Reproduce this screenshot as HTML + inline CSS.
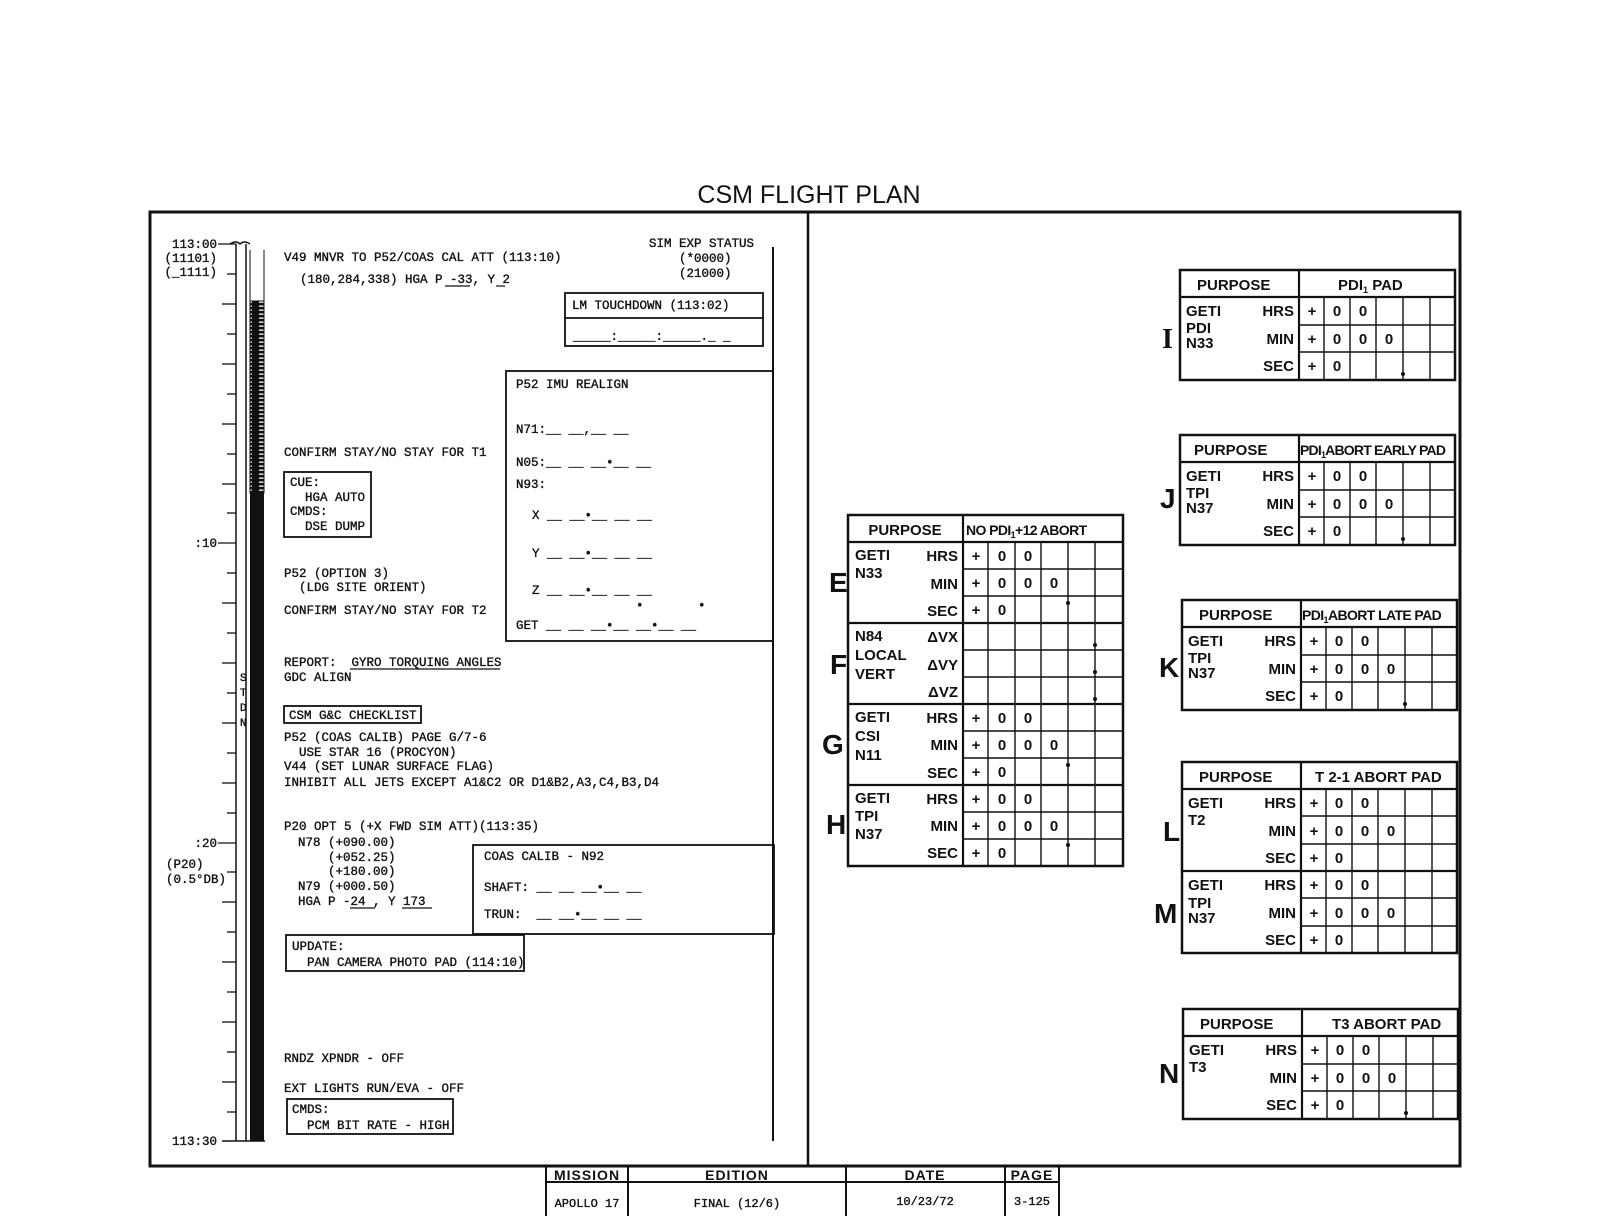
<!DOCTYPE html>
<html><head><meta charset="utf-8"><style>
html,body{margin:0;padding:0;background:#fff;}
svg{display:block;}
svg text{white-space:pre;}
.m{font-family:"Liberation Mono",monospace;font-size:12.5px;fill:#111;stroke:#111;stroke-width:0.35px;}
.b{font-family:"Liberation Sans",sans-serif;font-weight:bold;font-size:15px;fill:#111;}
.L{font-family:"Liberation Serif",serif;font-size:28px;fill:#111;font-weight:bold;}
.bl{font-family:"Liberation Sans",sans-serif;font-weight:bold;font-size:28px;fill:#111;}
</style></head><body>
<svg width="1615" height="1216" viewBox="0 0 1615 1216" xmlns="http://www.w3.org/2000/svg" xml:space="preserve">
<rect width="1615" height="1216" fill="#fff"/>
<defs>
<pattern id="lad" x="0" y="0" width="16" height="4" patternUnits="userSpaceOnUse">
<rect width="16" height="4" fill="#111"/><rect x="3" y="1.5" width="9" height="1.3" fill="#fff"/>
</pattern>
</defs>
<text x="809" y="203" text-anchor="middle" style="font-family:'Liberation Sans',sans-serif;font-size:25px;fill:#111">CSM FLIGHT PLAN</text>
<rect x="150" y="212" width="1310" height="954" fill="none" stroke="#111" stroke-width="3"/>
<line x1="808" y1="212" x2="808" y2="1166" stroke="#111" stroke-width="2.5"/>
<!-- footer -->
<g stroke="#111" stroke-width="2">
<line x1="546" y1="1182" x2="1059" y2="1182"/>
<line x1="546" y1="1166" x2="546" y2="1216"/><line x1="628" y1="1166" x2="628" y2="1216"/>
<line x1="846" y1="1166" x2="846" y2="1216"/><line x1="1005" y1="1166" x2="1005" y2="1216"/>
<line x1="1059" y1="1166" x2="1059" y2="1216"/>
</g>
<g style="font-family:'Liberation Sans',sans-serif;font-weight:bold;font-size:14px;letter-spacing:1px" fill="#111" text-anchor="middle">
<text x="587" y="1180">MISSION</text><text x="737" y="1180">EDITION</text><text x="925" y="1180">DATE</text><text x="1032" y="1180">PAGE</text>
</g>
<g class="m" text-anchor="middle" style="font-size:12px">
<text x="587" y="1207">APOLLO 17</text><text x="737" y="1207">FINAL (12/6)</text><text x="925" y="1205">10/23/72</text><text x="1032" y="1205">3-125</text>
</g>

<!-- timeline -->
<g stroke="#111" stroke-width="1.5">
<line x1="236" y1="244" x2="236" y2="1141"/>
<line x1="246" y1="244" x2="246" y2="1141"/>
<path d="M230 244 Q236 240 240 244 Q244 240 250 244" fill="none"/>
<line x1="222" y1="1141" x2="265" y2="1141"/>
</g>
<rect x="250" y="301" width="14" height="192" fill="url(#lad)"/>
<rect x="250" y="301" width="14" height="192" fill="none" stroke="#111" stroke-width="1"/>
<rect x="250" y="492" width="14" height="649" fill="#111"/>
<line x1="250" y1="250" x2="250" y2="301" stroke="#111" stroke-width="1"/>
<line x1="264" y1="250" x2="264" y2="301" stroke="#111" stroke-width="1"/>
<g stroke="#111" stroke-width="1.3">
<line x1="218" y1="244" x2="236" y2="244"/>
<line x1="227" y1="274" x2="236" y2="274"/><line x1="222" y1="304" x2="236" y2="304"/>
<line x1="227" y1="334" x2="236" y2="334"/><line x1="222" y1="364" x2="236" y2="364"/>
<line x1="227" y1="394" x2="236" y2="394"/><line x1="222" y1="424" x2="236" y2="424"/>
<line x1="227" y1="454" x2="236" y2="454"/><line x1="222" y1="484" x2="236" y2="484"/>
<line x1="227" y1="513" x2="236" y2="513"/><line x1="218" y1="543" x2="236" y2="543"/>
<line x1="227" y1="573" x2="236" y2="573"/><line x1="222" y1="603" x2="236" y2="603"/>
<line x1="227" y1="633" x2="236" y2="633"/><line x1="222" y1="663" x2="236" y2="663"/>
<line x1="227" y1="693" x2="236" y2="693"/><line x1="222" y1="723" x2="236" y2="723"/>
<line x1="227" y1="753" x2="236" y2="753"/><line x1="222" y1="783" x2="236" y2="783"/>
<line x1="227" y1="813" x2="236" y2="813"/><line x1="218" y1="843" x2="236" y2="843"/>
<line x1="227" y1="872" x2="236" y2="872"/><line x1="222" y1="902" x2="236" y2="902"/>
<line x1="227" y1="932" x2="236" y2="932"/><line x1="222" y1="962" x2="236" y2="962"/>
<line x1="227" y1="992" x2="236" y2="992"/><line x1="222" y1="1022" x2="236" y2="1022"/>
<line x1="227" y1="1052" x2="236" y2="1052"/><line x1="222" y1="1082" x2="236" y2="1082"/>
<line x1="227" y1="1112" x2="236" y2="1112"/>
</g>
<g class="m" text-anchor="end">
<text x="217" y="248">113:00</text><text x="217" y="262">(11101)</text><text x="217" y="276">(_1111)</text>
<text x="217" y="547">:10</text><text x="217" y="847">:20</text>
<text x="217" y="1145">113:30</text>
</g>
<g class="m"><text x="166" y="868">(P20)</text><text x="166" y="883">(0.5°DB)</text></g>
<g class="m" style="font-size:11px"><text x="240" y="681">S</text><text x="240" y="696">T</text><text x="240" y="711">D</text><text x="240" y="726">N</text></g>

<!-- left content -->
<line x1="773" y1="247" x2="773" y2="1141" stroke="#111" stroke-width="2"/>
<g class="m">
<text x="284" y="261">V49 MNVR TO P52/COAS CAL ATT (113:10)</text>
<text x="300" y="283">(180,284,338) HGA P -33, Y 2</text>
<text x="649" y="247">SIM EXP STATUS</text>
<text x="679" y="262">(*0000)</text>
<text x="679" y="277">(21000)</text>
<text x="284" y="456">CONFIRM STAY/NO STAY FOR T1</text>
<text x="284" y="577">P52 (OPTION 3)</text>
<text x="284" y="591">  (LDG SITE ORIENT)</text>
<text x="284" y="614">CONFIRM STAY/NO STAY FOR T2</text>
<text x="284" y="666">REPORT:  GYRO TORQUING ANGLES</text>
<text x="284" y="681">GDC ALIGN</text>
<text x="289" y="719">CSM G&amp;C CHECKLIST</text>
<text x="284" y="741">P52 (COAS CALIB) PAGE G/7-6</text>
<text x="284" y="756">  USE STAR 16 (PROCYON)</text>
<text x="284" y="770">V44 (SET LUNAR SURFACE FLAG)</text>
<text x="284" y="786">INHIBIT ALL JETS EXCEPT A1&amp;C2 OR D1&amp;B2,A3,C4,B3,D4</text>
<text x="284" y="830">P20 OPT 5 (+X FWD SIM ATT)(113:35)</text>
<text x="298" y="846">N78 (+090.00)</text>
<text x="328" y="861">(+052.25)</text>
<text x="328" y="875">(+180.00)</text>
<text x="298" y="890">N79 (+000.50)</text>
<text x="298" y="905">HGA P -24 , Y 173</text>
<text x="284" y="1062">RNDZ XPNDR - OFF</text>
<text x="284" y="1092">EXT LIGHTS RUN/EVA - OFF</text>
</g>
<g stroke="#111" stroke-width="1.2">
<line x1="445" y1="286" x2="470" y2="286"/><line x1="496" y1="286" x2="505" y2="286"/>
<line x1="350" y1="669" x2="500" y2="669"/>
<line x1="350" y1="908" x2="375" y2="908"/><line x1="402" y1="908" x2="432" y2="908"/>
</g>
<!-- boxes -->
<g fill="none" stroke="#111" stroke-width="1.8">
<rect x="565" y="293" width="198" height="53"/><line x1="565" y1="318" x2="763" y2="318"/>
<rect x="506" y="371" width="267" height="270"/>
<rect x="284" y="472" width="87" height="65"/>
<rect x="284" y="706" width="137" height="17"/>
<rect x="473" y="845" width="301" height="89"/>
<rect x="286" y="935" width="238" height="36"/>
<rect x="287" y="1099" width="166" height="35"/>
</g>
<g class="m">
<text x="572" y="309">LM TOUCHDOWN (113:02)</text>
<text x="573" y="340">_____:_____:_____._ _</text>
<text x="516" y="388">P52 IMU REALIGN</text>
<text x="516" y="433">N71:__ __,__ __</text>
<text x="516" y="466">N05:__ __ __•__ __</text>
<text x="516" y="488">N93:</text>
<text x="532" y="519">X __ __•__ __ __</text>
<text x="532" y="557">Y __ __•__ __ __</text>
<text x="532" y="594">Z __ __•__ __ __</text>
<text x="516" y="629">GET __ __ __•__ __•__ __</text>
<text x="636" y="609">•</text><text x="698" y="609">•</text>
<text x="290" y="486">CUE:</text>
<text x="290" y="501">  HGA AUTO</text>
<text x="290" y="515">CMDS:</text>
<text x="290" y="530">  DSE DUMP</text>
<text x="484" y="860">COAS CALIB - N92</text>
<text x="484" y="891">SHAFT: __ __ __•__ __</text>
<text x="484" y="918">TRUN:  __ __•__ __ __</text>
<text x="292" y="950">UPDATE:</text>
<text x="292" y="966">  PAN CAMERA PHOTO PAD (114:10)</text>
<text x="292" y="1113">CMDS:</text>
<text x="292" y="1129">  PCM BIT RATE - HIGH</text>
</g>

<!-- E-H table -->
<g transform="translate(848,515)">
<rect x="0" y="0" width="275" height="351" fill="none" stroke="#111" stroke-width="2.5"/>
<g stroke="#111" stroke-width="2.2">
<line x1="0" y1="27" x2="275" y2="27"/><line x1="0" y1="108" x2="275" y2="108"/>
<line x1="0" y1="189" x2="275" y2="189"/><line x1="0" y1="270" x2="275" y2="270"/>
<line x1="115" y1="0" x2="115" y2="351"/>
</g>
<g stroke="#111" stroke-width="1.4">
<line x1="115" y1="54" x2="275" y2="54"/><line x1="115" y1="81" x2="275" y2="81"/>
<line x1="115" y1="135" x2="275" y2="135"/><line x1="115" y1="162" x2="275" y2="162"/>
<line x1="115" y1="216" x2="275" y2="216"/><line x1="115" y1="243" x2="275" y2="243"/>
<line x1="115" y1="297" x2="275" y2="297"/><line x1="115" y1="324" x2="275" y2="324"/>
<line x1="140" y1="27" x2="140" y2="351"/><line x1="167" y1="27" x2="167" y2="351"/>
<line x1="193" y1="27" x2="193" y2="351"/><line x1="220" y1="27" x2="220" y2="351"/>
<line x1="247" y1="27" x2="247" y2="351"/>
</g>
<g fill="#111"><circle cx="220" cy="88" r="2"/><circle cx="247" cy="130" r="2"/><circle cx="247" cy="157" r="2"/><circle cx="247" cy="184" r="2"/><circle cx="220" cy="250" r="2"/><circle cx="220" cy="330" r="2"/></g>
<g class="b">
<text x="57" y="20" text-anchor="middle">PURPOSE</text>
<text x="118" y="20" style="font-size:14px;letter-spacing:-0.6px">NO PDI<tspan style="font-size:9px" dy="3">1</tspan><tspan dy="-3">+12 ABORT</tspan></text>
<text x="7" y="45">GETI</text><text x="7" y="63">N33</text>
<text x="7" y="126">N84</text><text x="7" y="145">LOCAL</text><text x="7" y="164">VERT</text>
<text x="7" y="207">GETI</text><text x="7" y="226">CSI</text><text x="7" y="245">N11</text>
<text x="7" y="288">GETI</text><text x="7" y="306">TPI</text><text x="7" y="324">N37</text>
</g>
<g class="b" text-anchor="end">
<text x="110" y="46">HRS</text><text x="110" y="74">MIN</text><text x="110" y="101">SEC</text>
<text x="110" y="127">ΔVX</text><text x="110" y="155">ΔVY</text><text x="110" y="182">ΔVZ</text>
<text x="110" y="208">HRS</text><text x="110" y="235">MIN</text><text x="110" y="263">SEC</text>
<text x="110" y="289">HRS</text><text x="110" y="316">MIN</text><text x="110" y="343">SEC</text>
</g>
<g class="b" text-anchor="middle">
<text x="128" y="46">+</text><text x="154" y="46">0</text><text x="180" y="46">0</text>
<text x="128" y="73">+</text><text x="154" y="73">0</text><text x="180" y="73">0</text><text x="206" y="73">0</text>
<text x="128" y="100">+</text><text x="154" y="100">0</text>
<text x="128" y="208">+</text><text x="154" y="208">0</text><text x="180" y="208">0</text>
<text x="128" y="235">+</text><text x="154" y="235">0</text><text x="180" y="235">0</text><text x="206" y="235">0</text>
<text x="128" y="262">+</text><text x="154" y="262">0</text>
<text x="128" y="289">+</text><text x="154" y="289">0</text><text x="180" y="289">0</text>
<text x="128" y="316">+</text><text x="154" y="316">0</text><text x="180" y="316">0</text><text x="206" y="316">0</text>
<text x="128" y="343">+</text><text x="154" y="343">0</text>
</g>
</g>
<g class="bl">
<text x="829" y="592">E</text><text x="830" y="674">F</text><text x="822" y="754">G</text><text x="826" y="834">H</text>
</g>

<!-- Generic 3-row tables -->
<g transform="translate(1180,270)">
<rect x="0" y="0" width="275" height="110" fill="none" stroke="#111" stroke-width="2.5"/>
<g stroke="#111" stroke-width="2.2"><line x1="0" y1="27" x2="275" y2="27"/><line x1="119" y1="0" x2="119" y2="110"/></g>
<g stroke="#111" stroke-width="1.4"><line x1="119" y1="55" x2="275" y2="55"/><line x1="119" y1="82" x2="275" y2="82"/>
<line x1="144" y1="27" x2="144" y2="110"/><line x1="170" y1="27" x2="170" y2="110"/><line x1="196" y1="27" x2="196" y2="110"/><line x1="223" y1="27" x2="223" y2="110"/><line x1="250" y1="27" x2="250" y2="110"/></g>
<circle cx="223" cy="104" r="2" fill="#111"/>
<g class="b"><text x="17" y="20">PURPOSE</text><text x="158" y="20">PDI<tspan style="font-size:9px" dy="3">1</tspan><tspan dy="-3"> PAD</tspan></text>
<text x="6" y="46">GETI</text><text x="6" y="63">PDI</text><text x="6" y="78">N33</text></g>
<g class="b" text-anchor="end"><text x="114" y="46">HRS</text><text x="114" y="74">MIN</text><text x="114" y="101">SEC</text></g>
<g class="b" text-anchor="middle"><text x="132" y="46">+</text><text x="157" y="46">0</text><text x="183" y="46">0</text>
<text x="132" y="74">+</text><text x="157" y="74">0</text><text x="183" y="74">0</text><text x="209" y="74">0</text>
<text x="132" y="101">+</text><text x="157" y="101">0</text></g>
</g>
<text x="1162" y="348" class="L">I</text>

<g transform="translate(1180,435)">
<rect x="0" y="0" width="275" height="110" fill="none" stroke="#111" stroke-width="2.5"/>
<g stroke="#111" stroke-width="2.2"><line x1="0" y1="27" x2="275" y2="27"/><line x1="119" y1="0" x2="119" y2="110"/></g>
<g stroke="#111" stroke-width="1.4"><line x1="119" y1="55" x2="275" y2="55"/><line x1="119" y1="82" x2="275" y2="82"/>
<line x1="144" y1="27" x2="144" y2="110"/><line x1="170" y1="27" x2="170" y2="110"/><line x1="196" y1="27" x2="196" y2="110"/><line x1="223" y1="27" x2="223" y2="110"/><line x1="250" y1="27" x2="250" y2="110"/></g>
<circle cx="223" cy="104" r="2" fill="#111"/>
<g class="b"><text x="14" y="20">PURPOSE</text><text x="120" y="20" style="font-size:14px;letter-spacing:-0.8px">PDI<tspan style="font-size:9px" dy="3">1</tspan><tspan dy="-3">ABORT EARLY PAD</tspan></text>
<text x="6" y="46">GETI</text><text x="6" y="63">TPI</text><text x="6" y="78">N37</text></g>
<g class="b" text-anchor="end"><text x="114" y="46">HRS</text><text x="114" y="74">MIN</text><text x="114" y="101">SEC</text></g>
<g class="b" text-anchor="middle"><text x="132" y="46">+</text><text x="157" y="46">0</text><text x="183" y="46">0</text>
<text x="132" y="74">+</text><text x="157" y="74">0</text><text x="183" y="74">0</text><text x="209" y="74">0</text>
<text x="132" y="101">+</text><text x="157" y="101">0</text></g>
</g>
<text x="1160" y="508" class="bl">J</text>

<g transform="translate(1182,600)">
<rect x="0" y="0" width="275" height="110" fill="none" stroke="#111" stroke-width="2.5"/>
<g stroke="#111" stroke-width="2.2"><line x1="0" y1="27" x2="275" y2="27"/><line x1="119" y1="0" x2="119" y2="110"/></g>
<g stroke="#111" stroke-width="1.4"><line x1="119" y1="55" x2="275" y2="55"/><line x1="119" y1="82" x2="275" y2="82"/>
<line x1="144" y1="27" x2="144" y2="110"/><line x1="170" y1="27" x2="170" y2="110"/><line x1="196" y1="27" x2="196" y2="110"/><line x1="223" y1="27" x2="223" y2="110"/><line x1="250" y1="27" x2="250" y2="110"/></g>
<circle cx="223" cy="104" r="2" fill="#111"/>
<g class="b"><text x="17" y="20">PURPOSE</text><text x="120" y="20" style="font-size:14px;letter-spacing:-0.6px">PDI<tspan style="font-size:9px" dy="3">1</tspan><tspan dy="-3">ABORT LATE PAD</tspan></text>
<text x="6" y="46">GETI</text><text x="6" y="63">TPI</text><text x="6" y="78">N37</text></g>
<g class="b" text-anchor="end"><text x="114" y="46">HRS</text><text x="114" y="74">MIN</text><text x="114" y="101">SEC</text></g>
<g class="b" text-anchor="middle"><text x="132" y="46">+</text><text x="157" y="46">0</text><text x="183" y="46">0</text>
<text x="132" y="74">+</text><text x="157" y="74">0</text><text x="183" y="74">0</text><text x="209" y="74">0</text>
<text x="132" y="101">+</text><text x="157" y="101">0</text></g>
</g>
<text x="1159" y="677" class="bl">K</text>

<!-- L/M table -->
<g transform="translate(1182,762)">
<rect x="0" y="0" width="275" height="191" fill="none" stroke="#111" stroke-width="2.5"/>
<g stroke="#111" stroke-width="2.2"><line x1="0" y1="27" x2="275" y2="27"/><line x1="119" y1="0" x2="119" y2="191"/><line x1="0" y1="109" x2="275" y2="109"/></g>
<g stroke="#111" stroke-width="1.4"><line x1="119" y1="54" x2="275" y2="54"/><line x1="119" y1="82" x2="275" y2="82"/>
<line x1="119" y1="136" x2="275" y2="136"/><line x1="119" y1="164" x2="275" y2="164"/>
<line x1="144" y1="27" x2="144" y2="191"/><line x1="170" y1="27" x2="170" y2="191"/><line x1="196" y1="27" x2="196" y2="191"/><line x1="223" y1="27" x2="223" y2="191"/><line x1="250" y1="27" x2="250" y2="191"/></g>
<g class="b"><text x="17" y="20">PURPOSE</text><text x="133" y="20">T 2-1 ABORT PAD</text>
<text x="6" y="46">GETI</text><text x="6" y="63">T2</text>
<text x="6" y="128">GETI</text><text x="6" y="146">TPI</text><text x="6" y="161">N37</text></g>
<g class="b" text-anchor="end"><text x="114" y="46">HRS</text><text x="114" y="74">MIN</text><text x="114" y="101">SEC</text>
<text x="114" y="128">HRS</text><text x="114" y="156">MIN</text><text x="114" y="183">SEC</text></g>
<g class="b" text-anchor="middle"><text x="132" y="46">+</text><text x="157" y="46">0</text><text x="183" y="46">0</text>
<text x="132" y="74">+</text><text x="157" y="74">0</text><text x="183" y="74">0</text><text x="209" y="74">0</text>
<text x="132" y="101">+</text><text x="157" y="101">0</text>
<text x="132" y="128">+</text><text x="157" y="128">0</text><text x="183" y="128">0</text>
<text x="132" y="156">+</text><text x="157" y="156">0</text><text x="183" y="156">0</text><text x="209" y="156">0</text>
<text x="132" y="183">+</text><text x="157" y="183">0</text></g>
</g>
<text x="1163" y="841" class="bl">L</text>
<text x="1154" y="923" class="bl">M</text>

<g transform="translate(1183,1009)">
<rect x="0" y="0" width="275" height="110" fill="none" stroke="#111" stroke-width="2.5"/>
<g stroke="#111" stroke-width="2.2"><line x1="0" y1="27" x2="275" y2="27"/><line x1="119" y1="0" x2="119" y2="110"/></g>
<g stroke="#111" stroke-width="1.4"><line x1="119" y1="55" x2="275" y2="55"/><line x1="119" y1="82" x2="275" y2="82"/>
<line x1="144" y1="27" x2="144" y2="110"/><line x1="170" y1="27" x2="170" y2="110"/><line x1="196" y1="27" x2="196" y2="110"/><line x1="223" y1="27" x2="223" y2="110"/><line x1="250" y1="27" x2="250" y2="110"/></g>
<circle cx="223" cy="104" r="2" fill="#111"/>
<g class="b"><text x="17" y="20">PURPOSE</text><text x="149" y="20">T3 ABORT PAD</text>
<text x="6" y="46">GETI</text><text x="6" y="63">T3</text></g>
<g class="b" text-anchor="end"><text x="114" y="46">HRS</text><text x="114" y="74">MIN</text><text x="114" y="101">SEC</text></g>
<g class="b" text-anchor="middle"><text x="132" y="46">+</text><text x="157" y="46">0</text><text x="183" y="46">0</text>
<text x="132" y="74">+</text><text x="157" y="74">0</text><text x="183" y="74">0</text><text x="209" y="74">0</text>
<text x="132" y="101">+</text><text x="157" y="101">0</text></g>
</g>
<text x="1159" y="1083" class="bl">N</text>
</svg>
</body></html>
